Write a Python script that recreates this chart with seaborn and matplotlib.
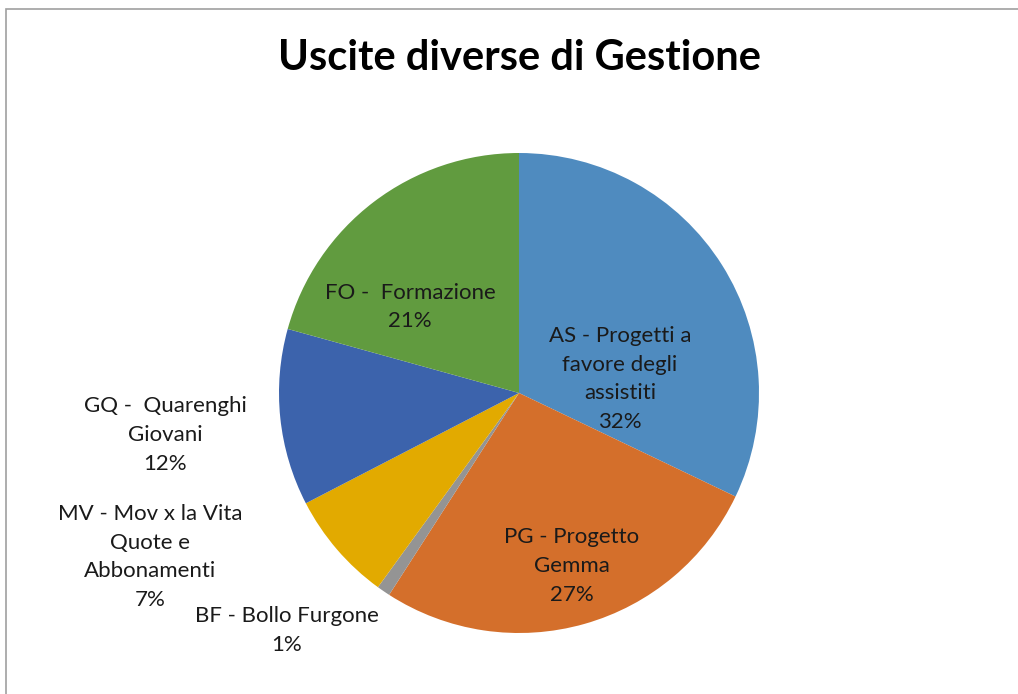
import matplotlib
matplotlib.use("Agg")
import matplotlib.pyplot as plt
import seaborn as sns
from matplotlib.patches import Rectangle

categories = ["AS - Progetti a\nfavore degli\nassistiti", "PG - Progetto\nGemma", "BF - Bollo Furgone",
              "MV - Mov x la Vita\nQuote e\nAbbonamenti", "GQ -  Quarenghi\nGiovani", "FO -  Formazione"]
values = [32.1, 27.0, 0.9, 7.4, 11.9, 20.7]
colors = ["#4F8BBF", "#D46F2B", "#949494", "#E2AA00", "#3C63AC", "#619B3F"]
label_pos = [(0.421, 0.058), (0.221, -0.721), (-0.967, -0.988),
             (-1.5375, -0.683), (-1.475, -0.175), (-0.454, 0.358)]

sns.set_theme(style="white")
plt.rcParams['font.family'] = ['Lato', 'DejaVu Sans']

W, H = 1018, 694
fig = plt.figure(figsize=(W / 100, H / 100), dpi=100)
fig.patch.set_facecolor("white")
ax = fig.add_axes([0, 0, 1, 1])
cx, cy, r = 519, 393, 240
ax.pie(values, colors=colors, startangle=90, counterclock=False, radius=1,
       wedgeprops=dict(linewidth=0))
ax.set_aspect('auto')
ax.set_xlim(-cx / r, (W - cx) / r)
ax.set_ylim(-(H - cy) / r, cy / r)
ax.axis('off')

total = sum(values)
for cat, v, (x, y) in zip(categories, values, label_pos):
    ax.text(x, y, f"{cat}\n{round(100 * v / total)}%", ha='center', va='center', fontsize=16,
            color='#1a1a1a', linespacing=1.55)

fig.text(cx / W, 1 - 58 / H, "Uscite diverse di Gestione", ha='center', va='center',
         fontsize=30, fontweight='bold', color='black')

fig.patches.append(Rectangle((6 / W, -0.01), 1.02, 1 - 9 / H + 0.01, transform=fig.transFigure,
                             fill=False, edgecolor='#A0A0A0', linewidth=1.2))

fig.savefig("out.png", dpi=100)
